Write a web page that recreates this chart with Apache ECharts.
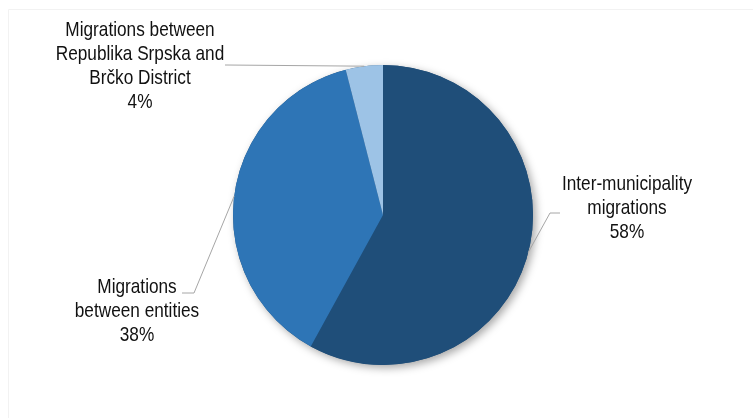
<!DOCTYPE html>
<html>
<head>
<meta charset="utf-8">
<script src="https://cdn.jsdelivr.net/npm/echarts@6/dist/echarts.min.js"></script>
<style>
html,body{margin:0;padding:0;background:#ffffff;}
#chart{width:753px;height:418px;}
</style>
</head>
<body>
<div id="chart"></div>
<script>
// Data
var categories = [
  'Inter-municipality\nmigrations',
  'Migrations\nbetween entities',
  'Migrations between\nRepublika Srpska and\nBrčko District'
];
var values = [58, 38, 4];
var colors = ['#1F4E79', '#2E75B6', '#9DC3E6'];

// Label placement (layout only)
var labelPos = [
  {x: 627, y: 208, bend: [550, 213], end: [560, 213]},
  {x: 137, y: 311, bend: [194, 293], end: [182, 293]},
  {x: 140, y: 66,  bend: [226, 65],  end: [225, 65]}
];

var chart = echarts.init(document.getElementById('chart'));
var font = "21px 'Liberation Sans', Arial, sans-serif";

chart.setOption({
  animation: false,
  backgroundColor: '#ffffff',
  series: [
    {
      type: 'pie', silent: true, center: [383, 215], radius: 150,
      label: {show: false}, labelLine: {show: false},
      itemStyle: {color: '#1F4E79', shadowBlur: 8, shadowOffsetX: 3, shadowOffsetY: 3, shadowColor: 'rgba(0,0,0,0.35)'},
      data: [{value: 1, name: ''}], z: 1
    },
    {
      type: 'pie', center: [383, 215], radius: 150, startAngle: 90, clockwise: true,
      z: 2,
      data: values.map(function (v, i) {
        return {value: v, name: categories[i], itemStyle: {color: colors[i]}};
      }),
      label: {show: false},
      labelLine: {show: false}
    }
  ]
});

// Labels and leader lines built from the pie's own layout
var pieData = chart.getModel().getSeriesByIndex(1).getData();
var graphics = [{
  type: 'polyline', silent: true, z: -10,
  shape: {points: [[8.5, 418], [8.5, 9.5], [753, 9.5]]},
  style: {stroke: '#f2f2f2', lineWidth: 1, fill: 'none'}
}];
values.forEach(function (v, i) {
  var lay = pieData.getItemLayout(i);
  var mid = (lay.startAngle + lay.endAngle) / 2;
  var ex = lay.cx + lay.r * Math.cos(mid);
  var ey = lay.cy + lay.r * Math.sin(mid);
  var lp = labelPos[i];
  graphics.push({
    type: 'polyline', silent: true, z: 10,
    shape: {points: [[ex, ey], lp.bend, lp.end]},
    style: {stroke: '#a6a6a6', lineWidth: 1, fill: 'none'}
  });
  graphics.push({
    type: 'text', silent: true, z: 10,
    x: lp.x, y: lp.y, scaleX: 0.82,
    style: {
      text: categories[i] + '\n' + v + '%',
      font: font, lineHeight: 24, fill: '#111111',
      textAlign: 'center', textVerticalAlign: 'middle', align: 'center', verticalAlign: 'middle'
    }
  });
});
chart.setOption({graphic: graphics});
</script>
</body>
</html>
